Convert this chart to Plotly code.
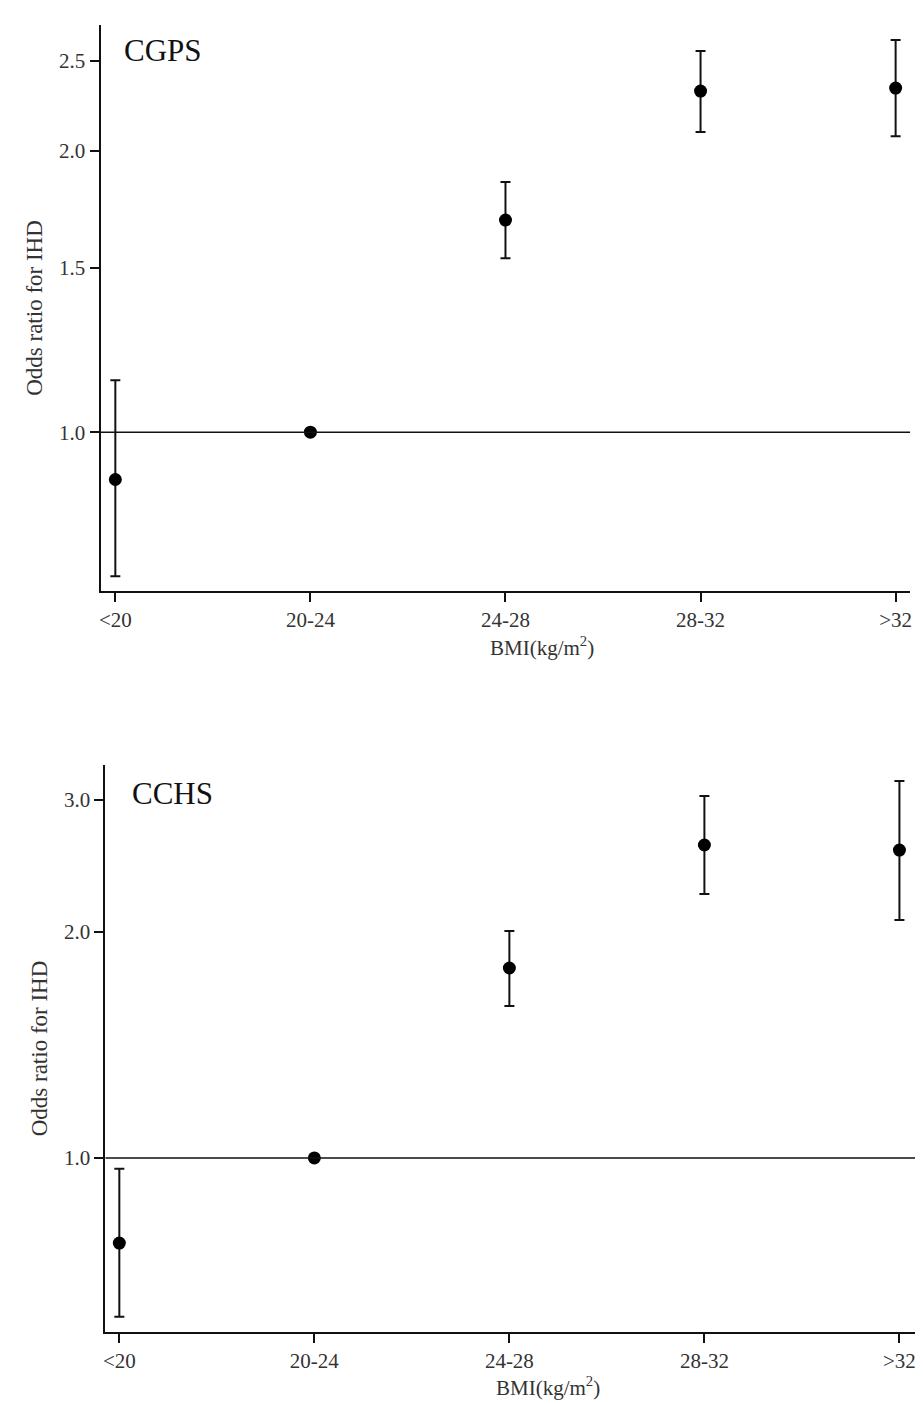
import plotly.graph_objects as go

categories = ["<20", "20-24", "24-28", "28-32", ">32"]

# CGPS panel
cgps_or = [0.89, 1.00, 1.687, 2.319, 2.336]
cgps_lo = [0.701, 1.00, 1.536, 2.096, 2.075]
cgps_hi = [1.137, 1.00, 1.853, 2.560, 2.630]
cgps_ticks = [1.0, 1.5, 2.0, 2.5]
cgps_ticktext = ["1.0", "1.5", "2.0", "2.5"]

# CCHS panel
cchs_or = [0.770, 1.00, 1.791, 2.612, 2.572]
cchs_lo = [0.614, 1.00, 1.594, 2.248, 2.075]
cchs_hi = [0.967, 1.00, 2.006, 3.036, 3.179]
cchs_ticks = [1.0, 2.0, 3.0]
cchs_ticktext = ["1.0", "2.0", "3.0"]

FONT = "Liberation Serif"
INK = "#111111"
TXT = "#333333"

# page has an 8px body margin; figure sized to fill the remaining window
OFF = 8
W = 923 - OFF
H = 1404 - OFF


def px(X):
    return (X - OFF) / W


def py(Y):
    return 1 - (Y - OFF) / H


fig = go.Figure()


def add_panel(vals, lo, hi, xa, ya):
    arr = [h - v for h, v in zip(hi, vals)]
    arrm = [v - l for v, l in zip(vals, lo)]
    fig.add_trace(go.Scatter(
        x=categories, y=vals, mode="markers",
        marker=dict(color="black", size=13),
        error_y=dict(type="data", array=arr, arrayminus=arrm, visible=True,
                     color=INK, thickness=2, width=5),
        xaxis=xa, yaxis=ya, showlegend=False, hoverinfo="x+y"))


add_panel(cgps_or, cgps_lo, cgps_hi, "x", "y")
add_panel(cchs_or, cchs_lo, cchs_hi, "x2", "y2")

axis_common = dict(
    showline=True, linecolor=INK, linewidth=2, ticks="outside", ticklen=9,
    tickwidth=1.5, tickcolor=INK, showgrid=False, zeroline=False,
    tickfont=dict(family=FONT, size=21, color=TXT), mirror=False,
)
ytitle_font = dict(family=FONT, size=23, color=TXT)

fig.update_layout(
    width=W, height=H,
    margin=dict(l=0, r=0, t=0, b=0),
    paper_bgcolor="white", plot_bgcolor="white",
    font=dict(family=FONT, color=TXT),
    xaxis=dict(domain=[px(98), px(912)], anchor="y", type="category",
               range=[-0.076, 4.074], **axis_common),
    yaxis=dict(domain=[py(591), py(25)], anchor="x", type="log",
               range=[-0.170, 0.436], tickvals=cgps_ticks, ticktext=cgps_ticktext,
               title=dict(text="Odds ratio for IHD", standoff=10, font=ytitle_font),
               **axis_common),
    xaxis2=dict(domain=[px(103), px(917)], anchor="y2", type="category",
                range=[-0.071, 4.08], **axis_common),
    yaxis2=dict(domain=[py(1332), py(765)], anchor="x2", type="log",
                range=[-0.232, 0.5236], tickvals=cchs_ticks, ticktext=cchs_ticktext,
                title=dict(text="Odds ratio for IHD", standoff=10, font=ytitle_font),
                **axis_common),
)

# reference lines at OR = 1
fig.add_shape(type="line", xref="x domain", yref="y", x0=0, x1=1, y0=1, y1=1,
              line=dict(color=INK, width=1.5))
fig.add_shape(type="line", xref="x2 domain", yref="y2", x0=0, x1=1, y0=1, y1=1,
              line=dict(color=INK, width=1.5))

# panel labels
fig.add_annotation(text="CGPS", xref="paper", yref="paper", x=px(120), y=py(50),
                   xanchor="left", yanchor="middle", showarrow=False,
                   font=dict(family=FONT, size=31, color="#111111"))
fig.add_annotation(text="CCHS", xref="paper", yref="paper", x=px(128), y=py(793),
                   xanchor="left", yanchor="middle", showarrow=False,
                   font=dict(family=FONT, size=31, color="#111111"))

# x-axis titles
xt_font = dict(family=FONT, size=21, color=TXT)
fig.add_annotation(text="BMI(kg/m<sup>2</sup>)", xref="paper", yref="paper",
                   x=px(542), y=py(646), xanchor="center", yanchor="middle",
                   showarrow=False, font=xt_font)
fig.add_annotation(text="BMI(kg/m<sup>2</sup>)", xref="paper", yref="paper",
                   x=px(548), y=py(1386), xanchor="center", yanchor="middle",
                   showarrow=False, font=xt_font)

fig.write_html("out.html")
